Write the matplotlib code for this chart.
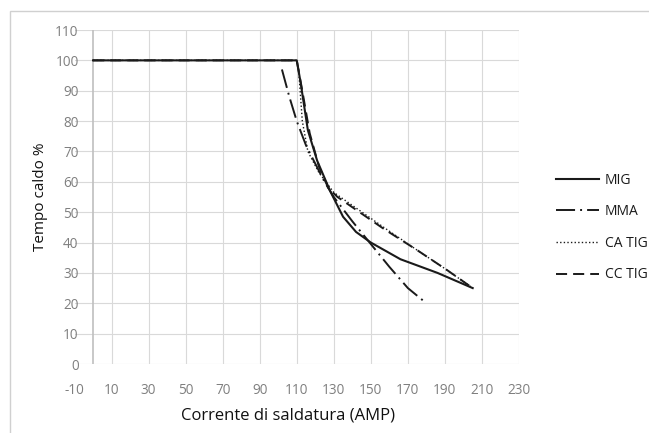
import matplotlib.pyplot as plt
from matplotlib.patches import Rectangle

# Duty cycle curves
mig_x = [0, 110, 112, 116, 121, 128, 135, 142, 150, 166, 186, 205]
mig_y = [100, 100, 93, 77, 67, 57, 48.5, 43.5, 40, 34.5, 30, 25]

mma_x = [102, 106, 110, 115, 120, 125, 130, 140, 150, 160, 170, 180]
mma_y = [97, 88, 80, 72, 66, 60, 55, 47, 39.5, 32, 25, 20]

ca_tig_x = [0, 110, 111, 113, 116, 122, 130, 157, 175, 191, 205]
ca_tig_y = [100, 100, 97, 80, 70, 63, 56.5, 45, 37.5, 31, 25]

cc_tig_x = [0, 110, 113, 117, 122, 127, 132, 157, 175, 191, 205]
cc_tig_y = [100, 100, 90, 76, 65, 58, 55, 44.5, 37.5, 31, 25]

series_names = ["MIG", "MMA", "CA TIG", "CC TIG"]

x_ticks = list(range(-10, 231, 20))
y_ticks = list(range(0, 111, 10))

plt.rcParams['font.family'] = ['Open Sans', 'DejaVu Sans']
plt.rcParams['axes.unicode_minus'] = False

fig = plt.figure(figsize=(6.49, 4.33), dpi=100)
fig.patch.set_facecolor('white')

# light chart-area border (cropped on right and bottom)
fig.add_artist(Rectangle((10 / 649, -0.2), 1.2, 1.2 - 11 / 433,
                         transform=fig.transFigure, fill=False,
                         edgecolor='#d0d0d0', linewidth=1.0))

ax = fig.add_axes([74.5 / 649, 1 - 364 / 433, (519 - 74.5) / 649, (364 - 30) / 433])
ax.set_xlim(-10, 230)
ax.set_ylim(0, 110)

# gridlines
for v in x_ticks[1:]:
    ax.axvline(v, color='#d9d9d9', linewidth=0.8, zorder=0)
for v in y_ticks:
    ax.axhline(v, color='#d9d9d9', linewidth=0.8, zorder=0)
ax.axvline(0, color='#bfbfbf', linewidth=1.2, zorder=1)

for s in ax.spines.values():
    s.set_visible(False)

ax.set_xticks(x_ticks)
ax.set_yticks(y_ticks)
ax.tick_params(axis='both', length=0, labelsize=9.8, labelcolor='#7f7f7f')
ax.tick_params(axis='x', pad=14)
ax.tick_params(axis='y', pad=-3)

ink = '#1a1a1a'
ax.plot(mig_x, mig_y, color=ink, linewidth=1.5, label=series_names[0], zorder=5)
ax.plot(mma_x, mma_y, color=ink, linewidth=1.4, linestyle=(0, (9.8, 2.6, 1, 2.6)),
        label=series_names[1], zorder=4)
ax.plot(ca_tig_x, ca_tig_y, color=ink, linewidth=1.0, linestyle=(0, (1, 1.6)),
        label=series_names[2], zorder=3)
ax.plot(cc_tig_x, cc_tig_y, color=ink, linewidth=1.4, linestyle=(0, (5.7, 3.1)),
        label=series_names[3], zorder=3)

leg = ax.legend(loc='center left', bbox_to_anchor=(556 / 649, 1 - 227.5 / 433),
                bbox_transform=fig.transFigure, frameon=False,
                prop={'family': ['Liberation Sans Narrow', 'Open Sans'], 'size': 10},
                handlelength=3.1, handletextpad=0.4, labelspacing=1.2,
                borderpad=0, borderaxespad=0)
for t in leg.get_texts():
    t.set_color('#1a1a1a')

fig.text(41 / 649, 1 - 197 / 433, "Tempo caldo %", rotation=90,
         ha='center', va='center', fontsize=11, color='#111111')
fig.text(288 / 649, 1 - 415 / 433, "Corrente di saldatura (AMP)",
         ha='center', va='center', fontsize=12, color='#111111')

fig.savefig('out.png', dpi=100, facecolor='white')
